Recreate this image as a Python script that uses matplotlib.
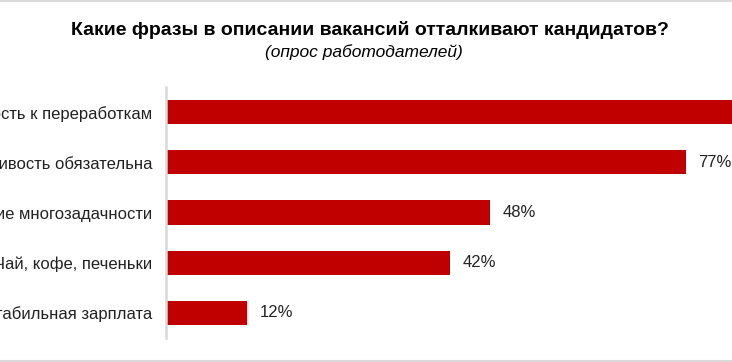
import matplotlib
matplotlib.use("Agg")
import matplotlib.pyplot as plt
from matplotlib.lines import Line2D

plt.rcParams['font.family'] = ['Liberation Sans', 'DejaVu Sans']

labels = [
    'Готовность к переработкам',
    'Стрессоустойчивость обязательна',
    'Требование многозадачности',
    'Чай, кофе, печеньки',
    'Стабильная зарплата',
]
values = [86, 77, 48, 42, 12]
bar_color = '#c00000'
grid_color = '#d9d9d9'

W, H = 732, 362
fig = plt.figure(figsize=(W / 100, H / 100), dpi=100)

# axes deliberately runs past the right edge, like the cropped original
ax = fig.add_axes([166 / W, 24 / H, 675 / W, 251 / H])
y = list(range(len(labels)))
ax.barh(y, values, height=0.48, color=bar_color)
ax.set_ylim(len(labels) - 0.5, -0.5)
ax.set_xlim(0, 100)

for yi, v in zip(y, values):
    ax.text(v + 1.9, yi, f'{v}%', va='center', ha='left', fontsize=12, color='#222222')

ax.set_yticks(y)
ax.set_yticklabels(labels, fontsize=12, color='#222222')
ax.tick_params(axis='y', length=0, pad=10)
ax.set_xticks([])
for s in ('top', 'right', 'bottom'):
    ax.spines[s].set_visible(False)
ax.spines['left'].set_color(grid_color)
ax.spines['left'].set_linewidth(1.8)

fig.text(370 / W, 1 - 30 / H, 'Какие фразы в описании вакансий отталкивают кандидатов?',
         ha='center', va='center', fontsize=14, fontweight='bold', color='black')
fig.text(364 / W, 1 - 52 / H, '(опрос работодателей)',
         ha='center', va='center', fontsize=12.5, style='italic', color='black')

# thin grey frame lines at top and bottom of the crop
fig.add_artist(Line2D([0, 1], [1 - 1 / H, 1 - 1 / H], color=grid_color, lw=1.5,
                      transform=fig.transFigure))
fig.add_artist(Line2D([0, 1], [1.2 / H, 1.2 / H], color=grid_color, lw=1.5,
                      transform=fig.transFigure))

fig.savefig('out.png', dpi=100)
